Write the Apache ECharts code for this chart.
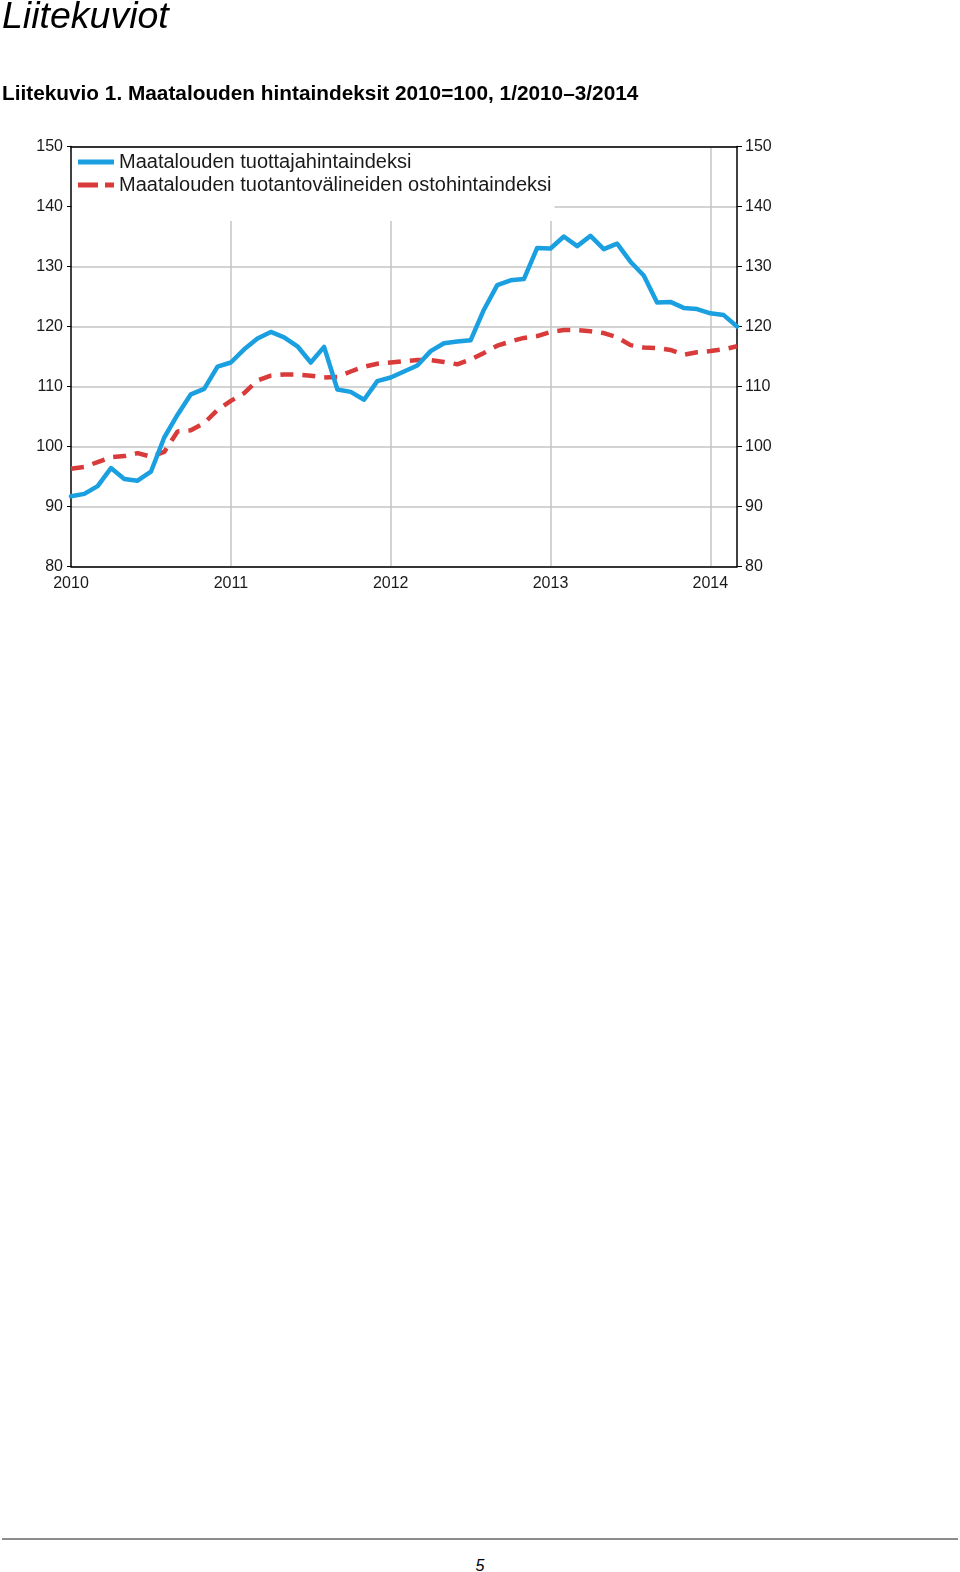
<!DOCTYPE html>
<html>
<head>
<meta charset="utf-8">
<script src="https://cdn.jsdelivr.net/npm/echarts@6/dist/echarts.min.js"></script>
<style>
  html, body { margin: 0; padding: 0; background: #fff; }
  #page { position: relative; width: 960px; height: 1572px; overflow: hidden; font-family: "Liberation Sans", Arial, sans-serif; }
  #h1 { position: absolute; z-index: 2; left: 2px; top: -6px; font-size: 37.5px; font-style: italic; color: #000; white-space: nowrap; }
  #h2 { position: absolute; z-index: 2; left: 2px; top: 81px; font-size: 20.8px; font-weight: bold; color: #000; white-space: nowrap; }
  #chart { position: absolute; z-index: 1; left: 0; top: 0; width: 960px; height: 620px; }
  #rule { position: absolute; left: 2px; top: 1538px; width: 956px; height: 0; border-top: 2px solid #8c8c8c; }
  #pno { position: absolute; left: 0; width: 960px; top: 1557px; text-align: center; font-size: 16px; font-style: italic; color: #000; }
</style>
</head>
<body>
<div id="page">
  <div id="chart"></div>
  <div id="h1">Liitekuviot</div>
  <div id="h2">Liitekuvio 1. Maatalouden hintaindeksit 2010=100, 1/2010–3/2014</div>
  <div id="rule"></div>
  <div id="pno">5</div>
</div>
<script>
// Months 1/2010 – 3/2014
const years = ['2010', '2011', '2012', '2013', '2014'];
const months = [];
for (let y = 2010; y <= 2014; y++) {
  for (let m = 1; m <= 12; m++) {
    if (y === 2014 && m > 3) break;
    months.push(y + 'M' + (m < 10 ? '0' + m : m));
  }
}

const seriesNames = [
  'Maatalouden tuottajahintaindeksi',
  'Maatalouden tuotantovälineiden ostohintaindeksi'
];

// Maatalouden tuottajahintaindeksi
const producerIndex = [
  91.7, 92.1, 93.4, 96.4, 94.6, 94.3, 95.8, 101.5, 105.3, 108.7, 109.6, 113.3,
  114.0, 116.2, 118.0, 119.1, 118.2, 116.7, 114.0, 116.6, 109.5, 109.1, 107.8, 110.9,
  111.5, 112.5, 113.5, 115.9, 117.2, 117.5, 117.7, 122.8, 126.9, 127.7, 127.9, 133.1,
  133.0, 135.0, 133.4, 135.1, 132.9, 133.8, 130.8, 128.5, 124.0, 124.1, 123.1, 122.9,
  122.2, 121.9, 120.0
];

// Maatalouden tuotantovälineiden ostohintaindeksi
const inputIndex = [
  96.3, 96.6, 97.4, 98.2, 98.4, 98.9, 98.3, 99.1, 102.5, 102.7, 103.9, 106.1,
  107.6, 108.9, 111.0, 111.8, 112.0, 112.0, 111.8, 111.5, 111.6, 112.5, 113.3, 113.8,
  114.0, 114.2, 114.4, 114.4, 114.1, 113.7, 114.5, 115.6, 116.8, 117.5, 118.1, 118.4,
  119.1, 119.4, 119.4, 119.2, 118.9, 118.2, 116.9, 116.5, 116.4, 116.1, 115.3, 115.7,
  115.9, 116.2, 116.7
];

const yMin = 80, yMax = 150, yStep = 10;

const FONT = '"Liberation Sans", Arial, sans-serif';
const BLUE = '#1aa0e0';
const RED = '#d93a3a';

const chart = echarts.init(document.getElementById('chart'), null, { renderer: 'canvas' });

const yearTick = (idx) => idx % 12 === 0;

const yAxisBase = {
  type: 'value',
  min: yMin, max: yMax, interval: yStep,
  axisLine: { show: true, lineStyle: { color: '#000', width: 1.5 } },
  axisTick: { show: true, length: 4, lineStyle: { color: '#000', width: 1 } },
  axisLabel: { color: '#1a1a1a', fontSize: 16, fontFamily: FONT, margin: 8 },
};

chart.setOption({
  animation: false,
  backgroundColor: 'transparent',
  grid: {
    left: 71, top: 146.5, width: 666, height: 420,
    show: false
  },
  legend: {
    left: 72, top: 148,
    orient: 'vertical',
    backgroundColor: '#fff',
    padding: [3, 3, 25, 6],
    itemGap: 1,
    itemWidth: 36,
    itemHeight: 5,
    textStyle: { fontSize: 20, fontFamily: FONT, color: '#1a1a1a', lineHeight: 22 },
    data: [
      { name: seriesNames[0], icon: 'rect', itemStyle: { color: BLUE, borderWidth: 0 } },
      { name: seriesNames[1], icon: 'path://M0,0H20V5H0Z M27,0H36V5H27Z',
        itemStyle: { color: RED, borderWidth: 0, opacity: 1 } }
    ],
    z: 3
  },
  xAxis: [
    {
      type: 'category',
      data: months,
      boundaryGap: false,
      position: 'bottom',
      axisLine: { show: true, lineStyle: { color: '#000', width: 1.5 } },
      axisTick: { show: false },
      axisLabel: {
        interval: (idx) => yearTick(idx),
        formatter: (v) => v.slice(0, 4),
        color: '#1a1a1a', fontSize: 16, fontFamily: FONT, margin: 9
      },
      splitLine: {
        show: true,
        interval: (idx) => yearTick(idx) && idx !== 0,
        lineStyle: { color: '#c4c4c4', width: 1.5 }
      }
    },
    {
      type: 'category',
      data: months,
      boundaryGap: false,
      position: 'top',
      z: 10,
      axisLine: { show: true, lineStyle: { color: '#000', width: 1.5 } },
      axisTick: { show: false },
      axisLabel: { show: false },
      splitLine: { show: false }
    }
  ],
  yAxis: [
    Object.assign({}, yAxisBase, {
      position: 'left',
      splitLine: { show: true, lineStyle: { color: '#c4c4c4', width: 1.5 } }
    }),
    Object.assign({}, yAxisBase, {
      position: 'right',
      axisTick: { show: true, length: 5, lineStyle: { color: '#000', width: 1 } },
      axisLabel: Object.assign({}, yAxisBase.axisLabel, { margin: 8 }),
      splitLine: { show: false }
    })
  ],
  series: [
    {
      name: seriesNames[0],
      type: 'line',
      data: producerIndex,
      xAxisIndex: 0,
      yAxisIndex: 0,
      symbol: 'none',
      lineStyle: { color: BLUE, width: 4.5, join: 'round', cap: 'round' },
      itemStyle: { color: BLUE },
      z: 5
    },
    {
      name: seriesNames[1],
      type: 'line',
      data: inputIndex,
      xAxisIndex: 0,
      yAxisIndex: 0,
      symbol: 'none',
      lineStyle: { color: RED, width: 4.5, type: [13, 9] },
      itemStyle: { color: RED },
      z: 4
    }
  ]
});
</script>
</body>
</html>
